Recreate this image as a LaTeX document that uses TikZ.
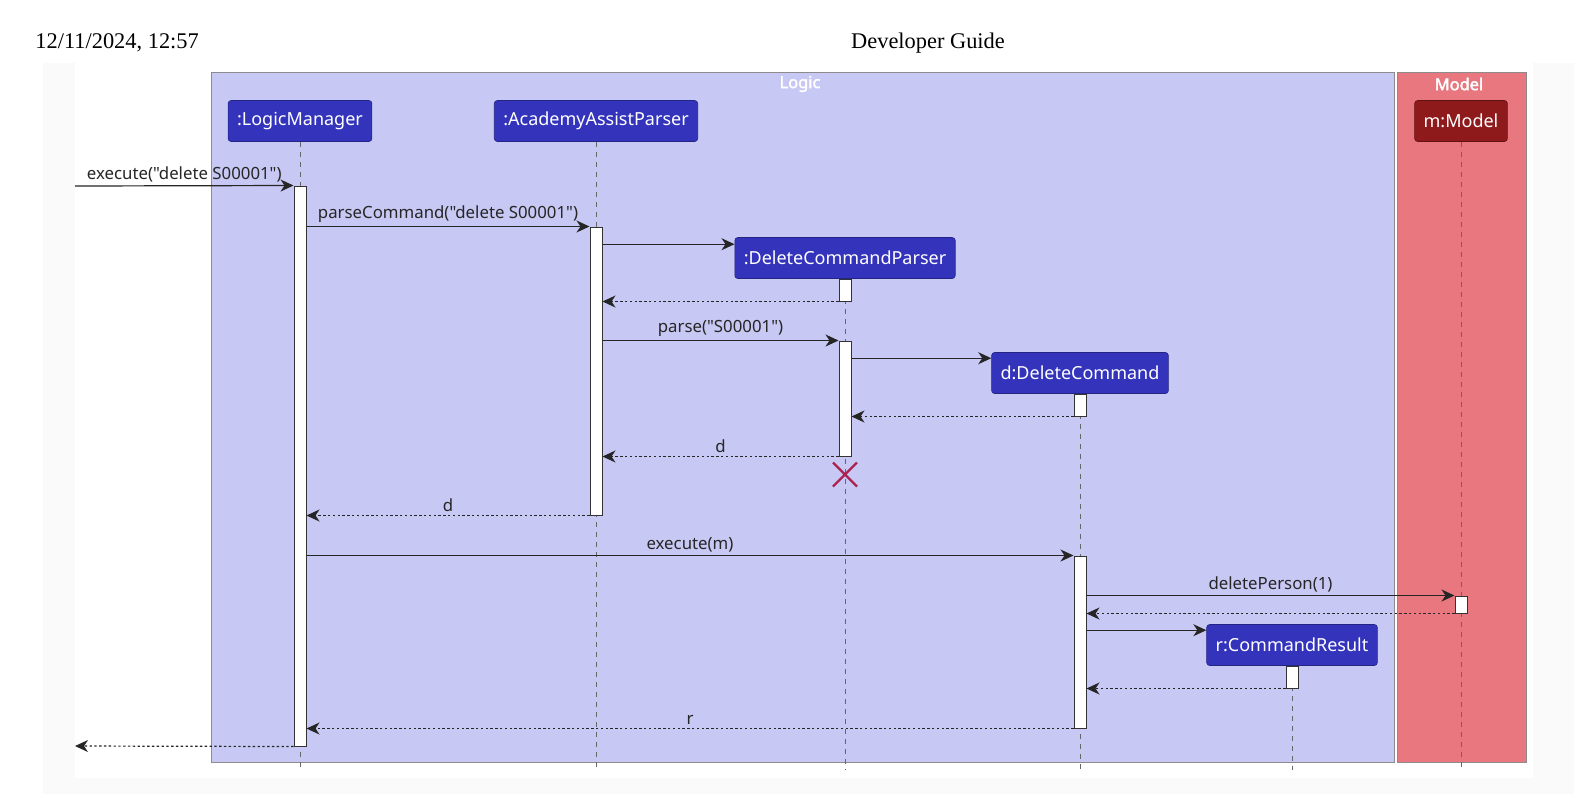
\documentclass[tikz,border=0pt]{standalone}
\usepackage{fontspec}
\setmainfont{Liberation Serif}
\newfontfamily\umlfont{Noto Sans}
\newfontfamily\umlbold{Noto Sans}[FakeBold=2.2]
\usetikzlibrary{arrows.meta,positioning}
\definecolor{logicbg}{HTML}{C8C8F4}
\definecolor{modelbg}{HTML}{E8777F}
\definecolor{partblue}{HTML}{3333BB}
\definecolor{partred}{HTML}{8E1A1C}
\definecolor{killred}{HTML}{AA2350}
\tikzset{
  part/.style={fill=partblue,draw=partblue!70!black,line width=0.3pt,rounded corners=1.5pt,
    text=white,font=\umlfont\fontsize{9}{10}\selectfont,minimum height=20.5pt,inner xsep=4.5pt},
  modelpart/.style={part,fill=partred,draw=partred!70!black},
  act/.style={draw=black!80,fill=white,line width=0.5pt,minimum width=6pt,inner sep=0pt},
  life/.style={draw=black!60,line width=0.4pt,dash pattern=on 2.5pt off 2.5pt},
  msg/.style={draw=black!85,line width=0.6pt,-{Stealth[length=6.5pt,width=6pt,inset=2pt]}},
  ret/.style={msg,dash pattern=on 1.2pt off 1.2pt},
  lbl/.style={font=\umlfont\fontsize{8.4}{9}\selectfont,text=black!85,inner sep=1pt},
  frame/.style={draw=black!45,line width=0.5pt},
  frametitle/.style={text=white,font=\umlbold\fontsize{8.2}{9}\selectfont},
  killmark/.style={draw=killred,line width=1.1pt}
}
\begin{document}
\begin{tikzpicture}[x=0.5pt,y=-0.5pt]
  \useasboundingbox (0,0) rectangle (1574,794);
  % page background
  \fill[black!2] (43,63) rectangle (1574,794);
  \fill[white] (75,63) rectangle (1533,778);
  \node[anchor=west,inner sep=0pt,font=\fontsize{11.2}{12}\selectfont] (date) at (35,43) {12/11/2024, 12:57};
  \node[inner sep=0pt,font=\fontsize{11.2}{12}\selectfont] (title) at (928,43) {Developer Guide};

  % boxes
  \draw[frame,fill=logicbg] (211,72) rectangle (1394,762);
  \node[frametitle] (logic) at (800,84) {Logic};
  \draw[frame,fill=modelbg] (1397,72) rectangle (1526,762);
  \node[frametitle] (model) at (1459,84) {Model};

  % participants
  \node[part] (lm) at (300,121) {:LogicManager};
  \node[part] (aap) at (596,121) {:AcademyAssistParser};
  \node[modelpart] (m) at (1461,121) {m:Model};
  \node[part] (dcp) at (845,258) {:DeleteCommandParser};
  \node[part] (dc) at (1080,373) {d:DeleteCommand};
  \node[part] (cr) at (1292,645) {r:CommandResult};

  \coordinate (bot) at (0,770);
  \foreach \p in {lm,aap,m,dcp,dc,cr}
    \draw[life] (\p.south) -- (\p.south |- bot);

  % activations
  \node[act,minimum height=280pt] (lmA) at (300,466) {};
  \node[act,minimum height=144pt] (aapA) at (596,371) {};
  \node[act,minimum height=11pt] (dcpA1) at (845,290) {};
  \node[act,minimum height=57.5pt] (dcpA2) at (845,398.5) {};
  \node[act,minimum height=11pt] (dcA1) at (1080,405) {};
  \node[act,minimum height=86pt] (dcA2) at (1080,642) {};
  \node[act,minimum height=8.5pt] (mA) at (1461,604.5) {};
  \node[act,minimum height=11pt] (crA) at (1292,677) {};

  \coordinate (in) at (75,186);
  \coordinate (out) at (75,746);

  % messages
  \draw[msg] (in) -- (lmA.north west) node[lbl,midway,above=0.5pt] {execute("delete S00001")};
  \draw[msg] (aapA.north west -| lmA.east) -- (aapA.north west) node[lbl,midway,above=0.5pt] {parseCommand("delete S00001")};
  \draw[msg] ([yshift=-3.5pt]dcp.north west -| aapA.east) -- ([yshift=-3.5pt]dcp.north west);
  \draw[ret] (dcpA1.south west) -- (dcpA1.south west -| aapA.east);
  \draw[msg] (dcpA2.north west -| aapA.east) -- (dcpA2.north west) node[lbl,midway,above=0.5pt] {parse("S00001")};
  \draw[msg] ([yshift=-3pt]dc.north west -| dcpA2.east) -- ([yshift=-3pt]dc.north west);
  \draw[ret] (dcA1.south west) -- (dcA1.south west -| dcpA2.east);
  \draw[ret] (dcpA2.south west) -- (dcpA2.south west -| aapA.east) node[lbl,midway,above=0.5pt] {d};
  \coordinate[below=9pt of dcpA2.south] (kill);
  \draw[killmark] ([shift={(-6pt,-6pt)}]kill) -- ([shift={(6pt,6pt)}]kill)
                  ([shift={(-6pt,6pt)}]kill) -- ([shift={(6pt,-6pt)}]kill);
  \draw[ret] (aapA.south west) -- (aapA.south west -| lmA.east) node[lbl,midway,above=0.5pt] {d};
  \draw[msg] (dcA2.north west -| lmA.east) -- (dcA2.north west) node[lbl,midway,above=0.5pt] {execute(m)};
  \draw[msg] (mA.north west -| dcA2.east) -- (mA.north west) node[lbl,midway,above=0.5pt] {deletePerson(1)};
  \draw[ret] (mA.south west) -- (mA.south west -| dcA2.east);
  \draw[msg] ([yshift=-3pt]cr.north west -| dcA2.east) -- ([yshift=-3pt]cr.north west);
  \draw[ret] (crA.south west) -- (crA.south west -| dcA2.east);
  \draw[ret] (dcA2.south west) -- (dcA2.south west -| lmA.east) node[lbl,midway,above=0.5pt] {r};
  \draw[ret] (lmA.south west) -- (out);
\end{tikzpicture}
\end{document}
